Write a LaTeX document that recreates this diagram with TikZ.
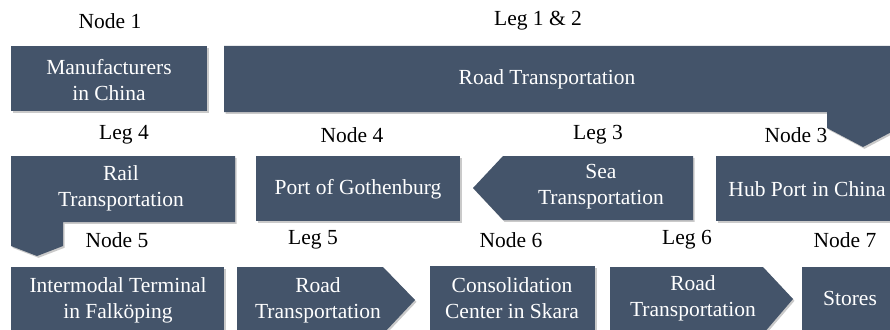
\documentclass[tikz,border=0pt]{standalone}
\usepackage{fontspec}
\setmainfont{Liberation Serif}
\usetikzlibrary{shadows}
\definecolor{boxblue}{HTML}{44546A}
\begin{document}
\begin{tikzpicture}[x=1pt,y=-1pt,
  shp/.style={fill=boxblue, draw=none, drop shadow={shadow xshift=1.5pt, shadow yshift=-1.8pt, opacity=0.35, fill=black!60}},
  boxtxt/.style={text=white, align=center, font=\fontsize{21.5}{26}\selectfont, inner sep=0pt},
  lbl/.style={text=black, font=\fontsize{21.5}{26}\selectfont, inner sep=0pt}]
\useasboundingbox (0,0) rectangle (890,329);
\clip (0,0) rectangle (890,329);
% shapes
\path[shp] (11,46) rectangle (207,111);
\path[shp] (224,46) -- (899,46) -- (899,128) -- (863,147) -- (827,128) -- (827,112) -- (224,112) -- cycle;
\path[shp] (11,156) -- (235,156) -- (235,222) -- (63,222) -- (63,246) -- (37,256) -- (11,246) -- cycle;
\path[shp] (256,156) rectangle (460,221);
\path[shp] (503,156) -- (693,156) -- (693,220) -- (503,220) -- (473,188) -- cycle;
\path[shp] (716,156) rectangle (899,221);
\path[shp] (11,267) rectangle (224,334);
\path[shp] (237,267) -- (383,267) -- (415,300) -- (383,334) -- (237,334) -- cycle;
\path[shp] (430,266) rectangle (595,334);
\path[shp] (610,267) -- (763,267) -- (793,299) -- (763,334) -- (610,334) -- cycle;
\path[shp] (802,267) rectangle (899,334);
% box texts
\node[boxtxt] (manu) at (109,80) {Manufacturers\\in China};
\node[boxtxt] (road12) at (547,79) {Road Transportation};
\node[boxtxt] (rail) at (121,188) {Rail\\Transportation};
\node[boxtxt] (goth) at (358,189) {Port of Gothenburg};
\node[boxtxt] (sea) at (601,187) {Sea\\Transportation};
\node[boxtxt] (hub) at (807,189) {Hub Port in China};
\node[boxtxt] (inter) at (118,300) {Intermodal Terminal\\in Falköping};
\node[boxtxt] (road5) at (318,300) {Road\\Transportation};
\node[boxtxt] (skara) at (512,298) {Consolidation\\Center in Skara};
\node[boxtxt] (road6) at (693,298) {Road\\Transportation};
\node[boxtxt] (stores) at (850,298) {Stores};
% labels
\node[lbl] (l1) at (110,21) {Node 1};
\node[lbl] (l2) at (538,21) {Leg 1 \& 2};
\node[lbl] (l3) at (124,135) {Leg 4};
\node[lbl] (l4) at (352,135) {Node 4};
\node[lbl] (l5) at (598,135) {Leg 3};
\node[lbl] (l6) at (796,135) {Node 3};
\node[lbl] (l7) at (117,240) {Node 5};
\node[lbl] (l8) at (313,240) {Leg 5};
\node[lbl] (l9) at (511,240) {Node 6};
\node[lbl] (l10) at (687,240) {Leg 6};
\node[lbl] (l11) at (845,240) {Node 7};
\end{tikzpicture}
\end{document}
